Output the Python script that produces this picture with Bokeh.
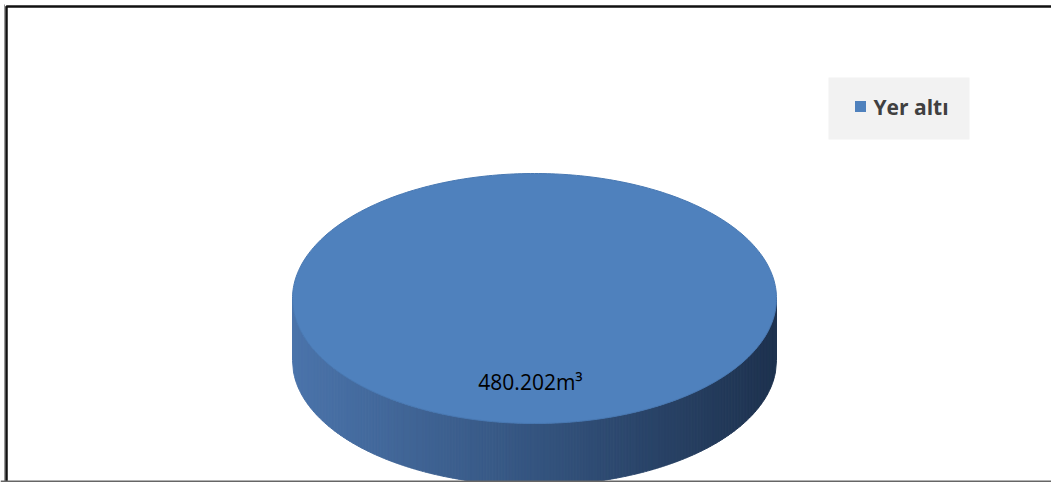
import numpy as np
from bokeh.plotting import figure
from bokeh.models import Range1d
from bokeh.core.properties import value
from bokeh.embed import file_html
from bokeh.resources import INLINE

# ---- data ----
categories = ["Yer altı"]
volumes = [480.202]
labels = ["480.202m³"]
colors = ["#4f81bd"]

W, H = 1051, 482
p = figure(width=W, height=H, output_backend="svg", toolbar_location=None,
           x_range=Range1d(0, W), y_range=Range1d(H, 0), min_border=0)
p.axis.visible = False
p.grid.visible = False
p.outline_line_color = None
p.background_fill_color = "white"
p.border_fill_color = "white"

# pie geometry (pixel-like space)
cx, cy, a, b, depth = 534, 298, 242, 125, 62

total = sum(volumes)
fracs = [v / total for v in volumes]

# side band with horizontal gradient (drawn as strips)
N = 160
xs_edges = np.linspace(cx - a, cx + a, N + 1)
strip_x, strip_y, strip_c = [], [], []
c_left = np.array([0x4b, 0x74, 0xab])
c_mid = np.array([0x35, 0x55, 0x80])
c_right = np.array([0x1e, 0x32, 0x4f])
for i in range(N):
    x0, x1 = xs_edges[i], xs_edges[i + 1]
    xx = np.linspace(x0, x1, 4)
    yt = cy + b * np.sqrt(np.clip(1 - ((xx - cx) / a) ** 2, 0, 1))
    yb = yt + depth
    strip_x.append(list(xx) + list(xx[::-1]))
    strip_y.append(list(yt) + list(yb[::-1]))
    t = (0.5 * (x0 + x1) - (cx - a)) / (2 * a)
    if t < 0.5:
        c = c_left + (c_mid - c_left) * (t / 0.5)
    else:
        c = c_mid + (c_right - c_mid) * ((t - 0.5) / 0.5)
    c = np.clip(c, 0, 255).astype(int)
    strip_c.append("#%02x%02x%02x" % tuple(c))
p.patches(strip_x, strip_y, fill_color=strip_c, line_color=strip_c, line_width=1)

# top face slices from data
start = -np.pi / 2
for frac, col in zip(fracs, colors):
    ang = np.linspace(start, start + 2 * np.pi * frac, 361)
    px = cx + a * np.cos(ang)
    py = cy + b * np.sin(ang)
    if frac < 1:
        px = np.concatenate([[cx], px])
        py = np.concatenate([[cy], py])
    p.patch(px, py, fill_color=col, line_color="#4878b2", line_width=1)
    start += 2 * np.pi * frac

# data label
p.text(x=[cx - 4], y=[381], text=labels, text_align="center", text_baseline="middle",
       text_font=value("Open Sans"), text_font_size="21px", text_color="#000000")

# legend box
p.quad(left=[828], right=[969], top=[77], bottom=[139], fill_color="#f2f2f2", line_color=None)
p.scatter(x=[860], y=[106], marker="square", size=11, fill_color=colors[0], line_color=None)
p.text(x=[873], y=[106], text=categories, text_align="left", text_baseline="middle",
       text_font=value("Open Sans"), text_font_style="bold", text_font_size="21px",
       text_color="#404040")

# chart frame
p.line(x=[6, 6, W], y=[H, 6, 6], line_color="#111111", line_width=2.5)
p.line(x=[4, 4], y=[H, 4], line_color="#999999", line_width=1)
p.line(x=[0, W], y=[481, 481], line_color="#666666", line_width=2)

open("out.html", "w").write(file_html(p, INLINE))
